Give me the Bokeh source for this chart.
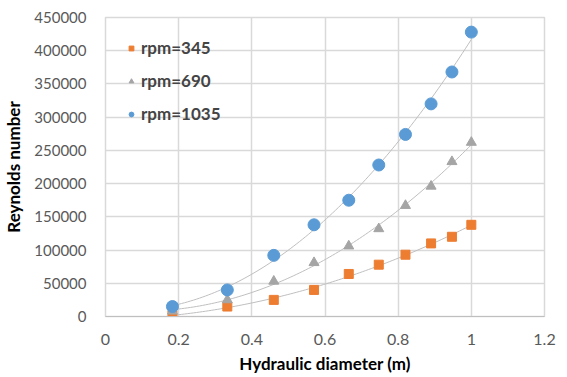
import numpy as np
from bokeh.plotting import figure
from bokeh.models import Range1d, FixedTicker, Legend, LegendItem, NumeralTickFormatter
from bokeh.embed import file_html
from bokeh.resources import INLINE

x_vals = [0.183, 0.333, 0.46, 0.57, 0.665, 0.747, 0.82, 0.89, 0.947, 1.0]
re_345 = [2000, 15000, 25000, 40000, 64000, 78000, 93000, 110000, 120000, 138000]
re_690 = [8000, 25000, 53000, 81000, 106000, 132000, 167000, 196000, 233000, 262000]
re_1035 = [15000, 40000, 92000, 138000, 175000, 228000, 274000, 320000, 368000, 428000]
x_ticks = [0, 0.2, 0.4, 0.6, 0.8, 1.0, 1.2]
y_ticks = list(range(0, 450001, 50000))

FONT = "Lato"
p = figure(width=567, height=377, output_backend="svg", toolbar_location=None,
           x_range=Range1d(0, 1.2), y_range=Range1d(0, 450000),
           min_border_left=104, min_border_right=23, min_border_top=17, min_border_bottom=61)

p.xaxis.ticker = FixedTicker(ticks=x_ticks)
p.yaxis.ticker = FixedTicker(ticks=y_ticks)
p.xaxis.major_label_overrides = {0: "0", 0.2: "0.2", 0.4: "0.4", 0.6: "0.6", 0.8: "0.8", 1.0: "1", 1.2: "1.2"}
p.yaxis.formatter = NumeralTickFormatter(format="0")
for ax in (p.xaxis, p.yaxis):
    ax.major_tick_line_color = None
    ax.minor_tick_line_color = None
    ax.major_label_text_font = FONT
    ax.major_label_text_font_size = "15px"
    ax.major_label_text_color = "#595959"
    ax.axis_label_text_font = FONT
    ax.axis_label_text_font_style = "bold"
    ax.axis_label_text_font_size = "17px"
    ax.axis_label_text_color = "#000000"
p.xaxis.major_label_text_font_size = "16px"
p.yaxis.axis_line_color = None
p.xaxis.axis_line_color = "#bfbfbf"
p.xaxis.axis_label = "Hydraulic diameter (m)"
p.yaxis.axis_label = "Reynolds number"
p.xaxis.major_label_standoff = 11
p.yaxis.major_label_standoff = 13
p.xaxis.axis_label_standoff = 5
p.yaxis.axis_label_standoff = 7

p.grid.grid_line_color = "#d9d9d9"
p.grid.grid_line_width = 1.5
p.outline_line_color = "#d9d9d9"
p.outline_line_width = 1.5

xs = np.array(x_vals)
xf = np.linspace(xs.min(), xs.max(), 100)
for ys in (re_345, re_690, re_1035):
    c = np.polyfit(xs, np.array(ys), 2)
    p.line(xf, np.polyval(c, xf), line_color="#bfbfbf", line_width=1)

r1 = p.scatter(x_vals, re_345, marker="square", size=9, fill_color="#ED7D31", line_color="#ED7D31")
r2 = p.scatter(x_vals, re_690, marker="triangle", size=10, fill_color="#A5A5A5", line_color="#A5A5A5")
r3 = p.scatter(x_vals, re_1035, marker="circle", size=12, fill_color="#5B9BD5", line_color="#5B9BD5")

legend = Legend(items=[LegendItem(label="rpm=345", renderers=[r1]),
                       LegendItem(label="rpm=690", renderers=[r2]),
                       LegendItem(label="rpm=1035", renderers=[r3])],
                location="top_left")
legend.background_fill_alpha = 0
legend.border_line_color = None
legend.label_text_font = FONT
legend.label_text_font_style = "bold"
legend.label_text_font_size = "17px"
legend.glyph_width = 12
legend.glyph_height = 20
legend.label_standoff = 4
legend.spacing = 12
legend.margin = 20
legend.padding = 5
p.add_layout(legend)

open("out.html", "w").write(file_html(p, INLINE))
